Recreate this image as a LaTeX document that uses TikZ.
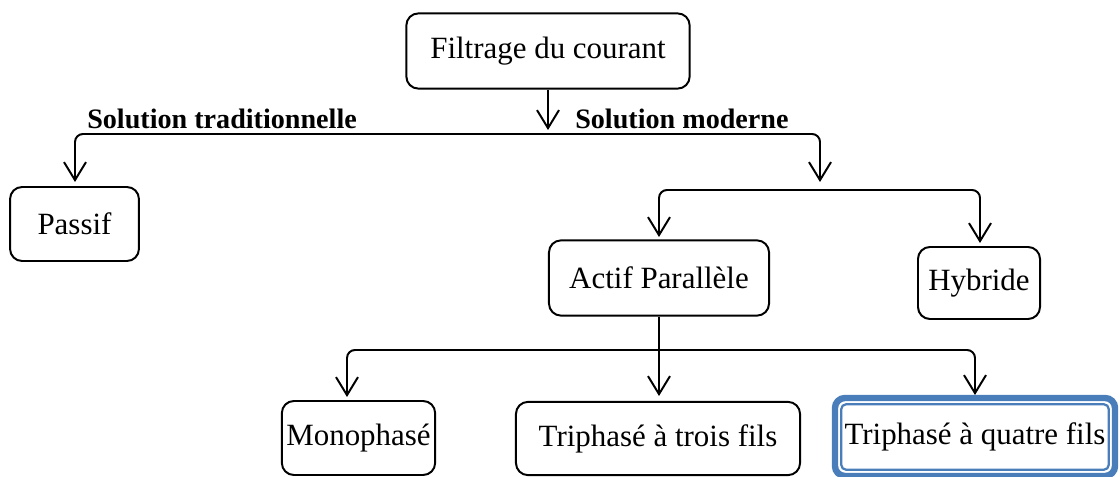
\documentclass[tikz,border=0pt]{standalone}
\usepackage{fontspec}
\setmainfont{Liberation Serif}
\usetikzlibrary{arrows.meta,calc}
\definecolor{frameblue}{HTML}{4A7EBB}
\begin{document}
\begin{tikzpicture}%
	[
	x={(0.025cm, 0cm)},
	y={(0cm, -0.025cm)},
	>={Straight Barb[length=0.45cm,width=0.55cm]},
	box/.style={draw=black, line width=1.4pt, rounded corners=0.3cm, inner sep=0pt, font=\fontsize{22}{26}\selectfont},
	quatrebox/.style={draw=frameblue, line width=0.16cm, rounded corners=0.25cm, inner sep=0pt, font=\fontsize{22}{26}\selectfont},
	link/.style={color=black, line width=1.4pt, rounded corners=0.2cm},
	branch/.style={anchor=west, inner sep=0pt, font=\fontsize{20}{24}\selectfont\bfseries}]

\useasboundingbox (0,0) rectangle (1120,477);

\node[box, minimum width=7.08cm, minimum height=1.88cm] (filtrage) at (548,51) {Filtrage du courant};
\node[box, minimum width=3.22cm, minimum height=1.85cm] (passif) at (74.5,224) {Passif};
\node[box, minimum width=5.5cm, minimum height=1.88cm] (actif) at (659,278) {Actif Parallèle};
\node[box, minimum width=3.05cm, minimum height=1.8cm] (hybride) at (979,283) {Hybride};
\node[box, minimum width=3.83cm, minimum height=1.85cm] (mono) at (358.5,438) {Monophasé};
\node[box, minimum width=7.1cm, minimum height=1.83cm] (trois) at (658,438.5) {Triphasé à trois fils};
\node[quatrebox, minimum width=7.0cm, minimum height=1.95cm] (quatre) at (975,437) {Triphasé à quatre fils};
\draw[frameblue, line width=1.6pt, rounded corners=0.12cm] ($(quatre.north west)+(9.5,9.5)$) rectangle ($(quatre.south east)+(-9.5,-9.5)$);

\node[branch] (trad) at (87,119) {Solution traditionnelle};
\node[branch] (moderne) at (575,119) {Solution moderne};

\coordinate (split) at (548,130);
\coordinate (topbus) at (548,134);
\coordinate (passiftip) at (75,182);
\coordinate (modernetip) at (820,182);
\coordinate (midbus) at (820,190);
\coordinate (actiftip) at (659,237);
\coordinate (hybridetip) at (980,243);
\coordinate (lowbus) at (659,350);
\coordinate (monotip) at (347,397);
\coordinate (troistip) at (659,396);
\coordinate (quatretip) at (975,395);

\draw[link,->] (filtrage.south) -- (split);
\draw[link,<->] (passiftip) |- (topbus) -| (modernetip);
\draw[link,<->] (actiftip) |- (midbus) -| (hybridetip);
\draw[link,->] (actif.south) -- (troistip);
\draw[link,<->] (monotip) |- (lowbus) -| (quatretip);
\end{tikzpicture}
\end{document}
